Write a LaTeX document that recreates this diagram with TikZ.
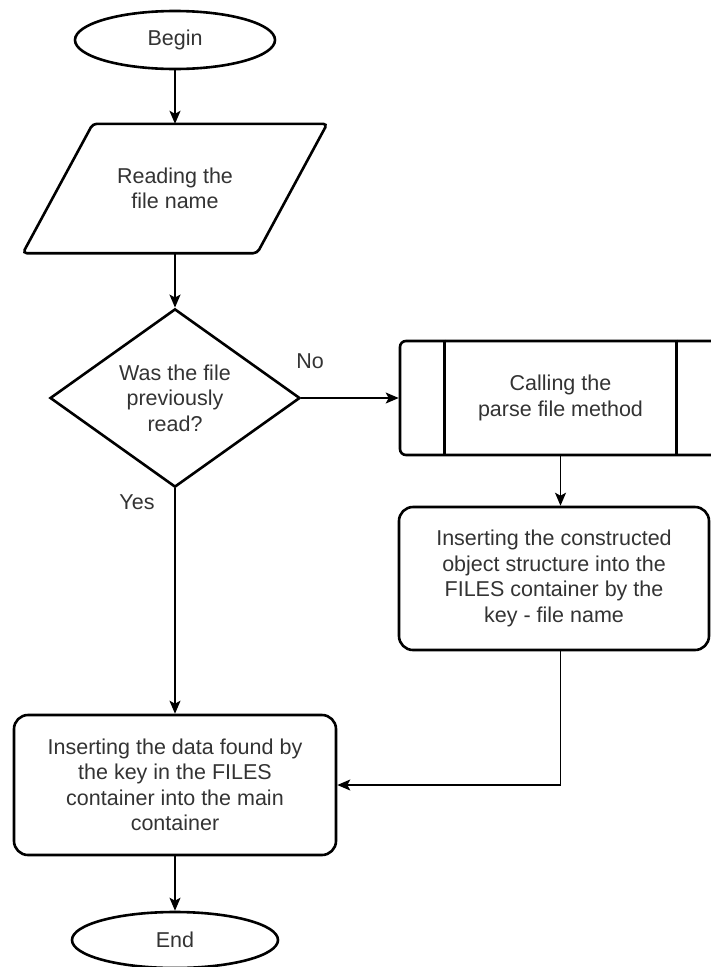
\documentclass[tikz,border=0pt]{standalone}
\usepackage{fontspec}
\setmainfont{Liberation Sans}
\usetikzlibrary{shapes.geometric,arrows.meta,calc}
\definecolor{txt}{HTML}{333333}
\begin{document}
\begin{tikzpicture}[x=1pt,y=-1pt,
  every node/.style={font=\fontsize{21.5}{25.5}\selectfont, text=txt, align=center, inner sep=0pt},
  border/.style={draw=black, line width=2.6pt},
  terminal/.style={border, ellipse, minimum width=200pt, minimum height=58pt},
  proc/.style={border, rectangle, rounded corners=14pt},
  link/.style={draw=black, line width=1.5pt, -{Stealth[length=13pt,width=11pt,inset=3pt]}},
]
\clip (0,0) rectangle (711,967);

% start
\node[terminal] (begin) at (175,40) {Begin};

% input: parallelogram drawn around a frameless node
\node[minimum width=234pt, minimum height=129pt] (read) at (175,188.5) {Reading the\\file name};
\draw[border, rounded corners=4pt]
  ($(read.north west)+(35,0)$) -- ($(read.north east)+(35,0)$) --
  ($(read.south east)+(-35,0)$) -- ($(read.south west)+(-35,0)$) -- cycle;

% decision
\node[border, diamond, minimum width=250pt, minimum height=168pt] (dec) at (175,398)
  {Was the file\\previously\\read?};
\node (no) at (310,361) {No};
\node (yes) at (137,502) {Yes};

% predefined process
\node[border, rectangle, rounded corners=6pt, minimum width=321pt, minimum height=114pt] (pp) at (560.5,398)
  {Calling the\\parse file method};
\draw[border] ([xshift=46pt]pp.north west) -- ([xshift=46pt]pp.south west);
\draw[border] ([xshift=-46pt]pp.north east) -- ([xshift=-46pt]pp.south east);

% processes
\node[proc, minimum width=310pt, minimum height=143pt] (ins) at (554,578.5)
  {Inserting the constructed\\object structure into the\\FILES container by the\\key - file name};
\node[proc, minimum width=322pt, minimum height=140pt] (data) at (175,785)
  {Inserting the data found by\\the key in the FILES\\container into the main\\container};

% end
\node[terminal, minimum width=206pt, minimum height=56pt] (end) at (175,940) {End};

% connectors
\draw[link] (begin.south) -- (read.north);
\draw[link] (read.south) -- (dec.north);
\draw[link] (dec.east) -- (pp.west);
\draw[link] (pp.south) -- (pp.south |- ins.north);
\draw[link] (dec.south) -- (data.north);
\draw[link] (pp.south |- ins.south) -- (pp.south |- data.east) -- (data.east);
\draw[link] (data.south) -- (end.north);
\end{tikzpicture}
\end{document}
